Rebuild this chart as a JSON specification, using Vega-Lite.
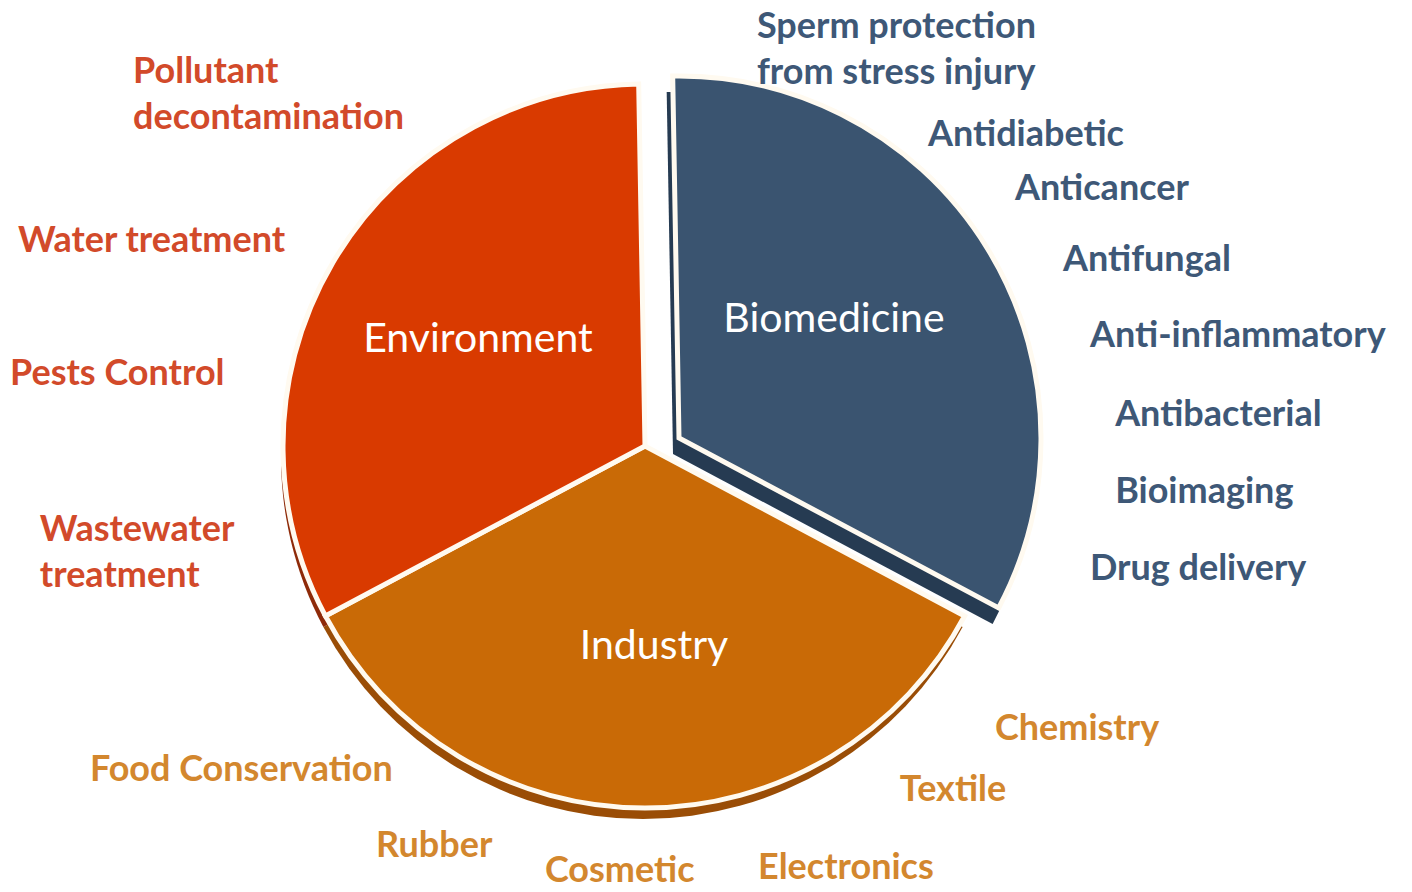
{
  "$schema": "https://vega.github.io/schema/vega-lite/v6.json",
  "width": 1412,
  "height": 892,
  "autosize": "none",
  "padding": 0,
  "background": "white",
  "config": {"view": {"stroke": null}},
  "datasets": {
    "slices": [
      {"sector": "Biomedicine", "share": 119},
      {"sector": "Industry", "share": 124},
      {"sector": "Environment", "share": 117}
    ],
    "sectorLabels": [
      {"sector": "Environment", "u": -0.464, "v": 0.294},
      {"sector": "Biomedicine", "u": 0.525, "v": 0.35},
      {"sector": "Industry", "u": 0.025, "v": -0.558}
    ],
    "uses": [
      {"group": "Biomedicine", "use": "Sperm protection\nfrom stress injury", "u": 0.311, "v": 1.164},
      {"group": "Biomedicine", "use": "Antidiabetic", "u": 0.786, "v": 0.864},
      {"group": "Biomedicine", "use": "Anticancer", "u": 1.028, "v": 0.714},
      {"group": "Biomedicine", "use": "Antifungal", "u": 1.161, "v": 0.517},
      {"group": "Biomedicine", "use": "Anti-inflammatory", "u": 1.236, "v": 0.306},
      {"group": "Biomedicine", "use": "Antibacterial", "u": 1.306, "v": 0.086},
      {"group": "Biomedicine", "use": "Bioimaging", "u": 1.306, "v": -0.128},
      {"group": "Biomedicine", "use": "Drug delivery", "u": 1.236, "v": -0.342},
      {"group": "Industry", "use": "Chemistry", "u": 0.972, "v": -0.786},
      {"group": "Industry", "use": "Textile", "u": 0.708, "v": -0.956},
      {"group": "Industry", "use": "Electronics", "u": 0.314, "v": -1.172},
      {"group": "Industry", "use": "Cosmetic", "u": -0.278, "v": -1.18},
      {"group": "Industry", "use": "Rubber", "u": -0.747, "v": -1.111},
      {"group": "Industry", "use": "Food Conservation", "u": -1.542, "v": -0.9},
      {"group": "Environment", "use": "Wastewater\ntreatment", "u": -1.681, "v": -0.233},
      {"group": "Environment", "use": "Pests Control", "u": -1.764, "v": 0.2},
      {"group": "Environment", "use": "Water treatment", "u": -1.742, "v": 0.569},
      {"group": "Environment", "use": "Pollutant\ndecontamination", "u": -1.422, "v": 1.039}
    ]
  },
  "layer": [
    {
      "data": {"name": "slices"},
      "transform": [
        {"stack": "share", "groupby": [], "sort": [{"field": "sector", "order": "descending"}], "as": ["a0", "a1"]},
        {"filter": "datum.sector !== 'Biomedicine'"}
      ],
      "mark": {"type": "arc", "radius": 362, "xOffset": -2, "yOffset": 11},
      "encoding": {
        "x": {"datum": 0, "type": "quantitative", "scale": {"domain": [-1.7917, 2.1306], "nice": false, "zero": false}, "axis": null},
        "y": {"datum": 0, "type": "quantitative", "scale": {"domain": [-1.2389, 1.2389], "nice": false, "zero": false}, "axis": null},
        "theta": {"field": "a0", "type": "quantitative", "scale": {"domain": [0, 360], "range": [2.0595, 8.3427]}},
        "theta2": {"field": "a1"},
        "color": {"field": "sector", "type": "nominal", "scale": {"domain": ["Environment", "Industry", "Biomedicine"], "range": ["#8e2a08", "#9a4d06", "#263b52"]}, "legend": null}
      }
    },
    {
      "data": {"name": "slices"},
      "transform": [
        {"stack": "share", "groupby": [], "sort": [{"field": "sector", "order": "descending"}], "as": ["a0", "a1"]},
        {"filter": "datum.sector === 'Biomedicine'"}
      ],
      "mark": {"type": "arc", "radius": 362, "xOffset": 28, "yOffset": 8},
      "encoding": {
        "x": {"datum": 0, "type": "quantitative", "axis": null},
        "y": {"datum": 0, "type": "quantitative", "axis": null},
        "theta": {"field": "a0", "type": "quantitative"},
        "theta2": {"field": "a1"},
        "color": {"field": "sector", "type": "nominal", "scale": {"domain": ["Environment", "Industry", "Biomedicine"], "range": ["#8e2a08", "#9a4d06", "#263b52"]}, "legend": null}
      }
    },
    {
      "data": {"name": "slices"},
      "transform": [
        {"stack": "share", "groupby": [], "sort": [{"field": "sector", "order": "descending"}], "as": ["a0", "a1"]},
        {"filter": "datum.sector !== 'Biomedicine'"}
      ],
      "mark": {"type": "arc", "radius": 362, "stroke": "#fffaf0", "strokeWidth": 5},
      "encoding": {
        "x": {"datum": 0, "type": "quantitative", "axis": null},
        "y": {"datum": 0, "type": "quantitative", "axis": null},
        "theta": {"field": "a0", "type": "quantitative"},
        "theta2": {"field": "a1"},
        "color": {"field": "sector", "type": "nominal", "scale": {"domain": ["Environment", "Industry", "Biomedicine"], "range": ["#d93a00", "#c96a06", "#3a5470"]}, "legend": null}
      }
    },
    {
      "data": {"name": "slices"},
      "transform": [
        {"stack": "share", "groupby": [], "sort": [{"field": "sector", "order": "descending"}], "as": ["a0", "a1"]},
        {"filter": "datum.sector === 'Biomedicine'"}
      ],
      "mark": {"type": "arc", "radius": 362, "xOffset": 34, "yOffset": -8, "stroke": "#fffaf0", "strokeWidth": 5},
      "encoding": {
        "x": {"datum": 0, "type": "quantitative", "axis": null},
        "y": {"datum": 0, "type": "quantitative", "axis": null},
        "theta": {"field": "a0", "type": "quantitative"},
        "theta2": {"field": "a1"},
        "color": {"field": "sector", "type": "nominal", "scale": {"domain": ["Environment", "Industry", "Biomedicine"], "range": ["#d93a00", "#c96a06", "#3a5470"]}, "legend": null}
      }
    },
    {
      "data": {"name": "sectorLabels"},
      "mark": {"type": "text", "align": "center", "baseline": "middle", "font": "Lato", "fontSize": 41, "color": "white"},
      "encoding": {
        "x": {"field": "u", "type": "quantitative", "axis": null},
        "y": {"field": "v", "type": "quantitative", "axis": null},
        "text": {"field": "sector"}
      }
    },
    {
      "data": {"name": "uses"},
      "mark": {"type": "text", "align": "left", "baseline": "middle", "font": "Lato", "fontSize": 36, "fontWeight": "bold", "lineBreak": "\n", "lineHeight": 46},
      "encoding": {
        "x": {"field": "u", "type": "quantitative", "axis": null},
        "y": {"field": "v", "type": "quantitative", "axis": null},
        "text": {"field": "use"},
        "color": {"field": "group", "type": "nominal", "scale": {"domain": ["Environment", "Industry", "Biomedicine"], "range": ["#d24a2a", "#d3872e", "#3e5877"]}, "legend": null}
      }
    }
  ],
  "resolve": {"scale": {"color": "independent"}}
}
